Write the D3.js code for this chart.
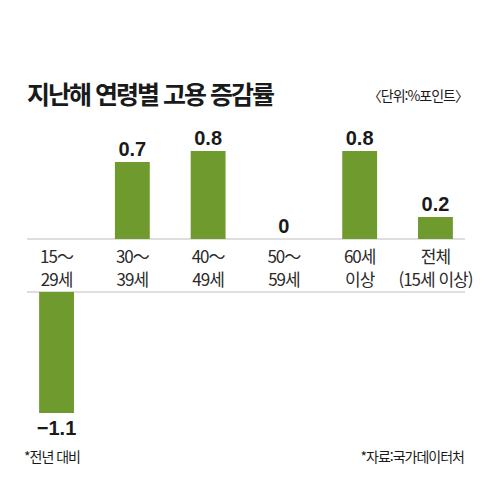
<!DOCTYPE html>
<html lang="ko">
<head>
<meta charset="UTF-8">
<title>지난해 연령별 고용 증감률</title>
<script src="https://cdn.jsdelivr.net/npm/d3@7"></script>
<style>
    body { margin: 0; background: #fff; }
    svg text { font-family: "Noto Sans CJK KR", "Noto Sans", sans-serif; fill: #1a1a1a; }
    .title { font-size: 25px; font-weight: 700; letter-spacing: -2px; }
    .unit, .note { font-size: 14px; letter-spacing: -1px; }
    .cat { font-size: 17px; font-weight: 400; letter-spacing: -1px; fill: #2a2a2a; }
    .val { font-family: "Liberation Sans", Arial, sans-serif; font-size: 20px; font-weight: 700; }
</style>
</head>
<body>
<script>
const categories = ["15~29세", "30~39세", "40~49세", "50~59세", "60세 이상", "전체(15세 이상)"];
const labelLines = [["15～", "29세"], ["30～", "39세"], ["40～", "49세"], ["50～", "59세"], ["60세", "이상"], ["전체", "(15세 이상)"]];
const values = [-1.1, 0.7, 0.8, 0, 0.8, 0.2];
const valueLabels = ["−1.1", "0.7", "0.8", "0", "0.8", "0.2"];

const w = 500, h = 494;
const left = 27, right = 465;
const zeroY = 239;      // baseline of positive bars
const bandGap = 53;     // room for category labels under the baseline

const svg = d3.select("body").append("svg")
    .attr("width", w)
    .attr("height", h);

const xScale = d3.scaleBand()
    .domain(categories)
    .range([left, right])
    .paddingInner(0.54)
    .paddingOuter(0.16);

// length of a bar, shared by positive and negative values
const lenScale = d3.scaleLinear()
    .domain([0, 1])
    .range([0, 110]);

function barTop(v) {
    return v >= 0 ? zeroY - lenScale(v) : zeroY + bandGap;
}
function barHeight(v) {
    return lenScale(Math.abs(v));
}

svg.append("text")
    .attr("class", "title")
    .attr("x", left)
    .attr("y", 104)
    .text("지난해 연령별 고용 증감률");

svg.append("text")
    .attr("class", "unit")
    .attr("x", right + 3)
    .attr("y", 101)
    .attr("text-anchor", "end")
    .text("〈단위:%포인트〉");

// guide lines
svg.selectAll("line.guide")
    .data([zeroY, zeroY + bandGap])
    .enter()
    .append("line")
    .attr("class", "guide")
    .attr("x1", left)
    .attr("x2", right)
    .attr("y1", d => d)
    .attr("y2", d => d)
    .attr("stroke", "#bdbdbd")
    .attr("stroke-width", 1);

svg.selectAll("rect")
    .data(values)
    .enter()
    .append("rect")
    .attr("x", (d, i) => xScale(categories[i]))
    .attr("y", d => barTop(d))
    .attr("width", xScale.bandwidth())
    .attr("height", d => barHeight(d))
    .attr("fill", "#6e9a2e");

svg.selectAll("text.val")
    .data(values)
    .enter()
    .append("text")
    .attr("class", "val")
    .attr("x", (d, i) => xScale(categories[i]) + xScale.bandwidth() / 2)
    .attr("y", d => d >= 0 ? barTop(d) - 6 : barTop(d) + barHeight(d) + 22)
    .attr("text-anchor", "middle")
    .text((d, i) => valueLabels[i]);

const cat = svg.selectAll("text.cat")
    .data(categories)
    .enter()
    .append("text")
    .attr("class", "cat")
    .attr("text-anchor", "middle")
    .attr("x", d => xScale(d) + xScale.bandwidth() / 2)
    .attr("y", zeroY + 24);

cat.selectAll("tspan")
    .data((d, i) => labelLines[i])
    .enter()
    .append("tspan")
    .attr("x", function () { return d3.select(this.parentNode).attr("x"); })
    .attr("dy", (d, i) => i === 0 ? 0 : 23)
    .text(d => d);

svg.append("text")
    .attr("class", "note")
    .attr("x", 24)
    .attr("y", 462)
    .text("*전년 대비");

svg.append("text")
    .attr("class", "note")
    .attr("x", right - 1)
    .attr("y", 462)
    .attr("text-anchor", "end")
    .text("*자료:국가데이터처");
</script>
</body>
</html>
